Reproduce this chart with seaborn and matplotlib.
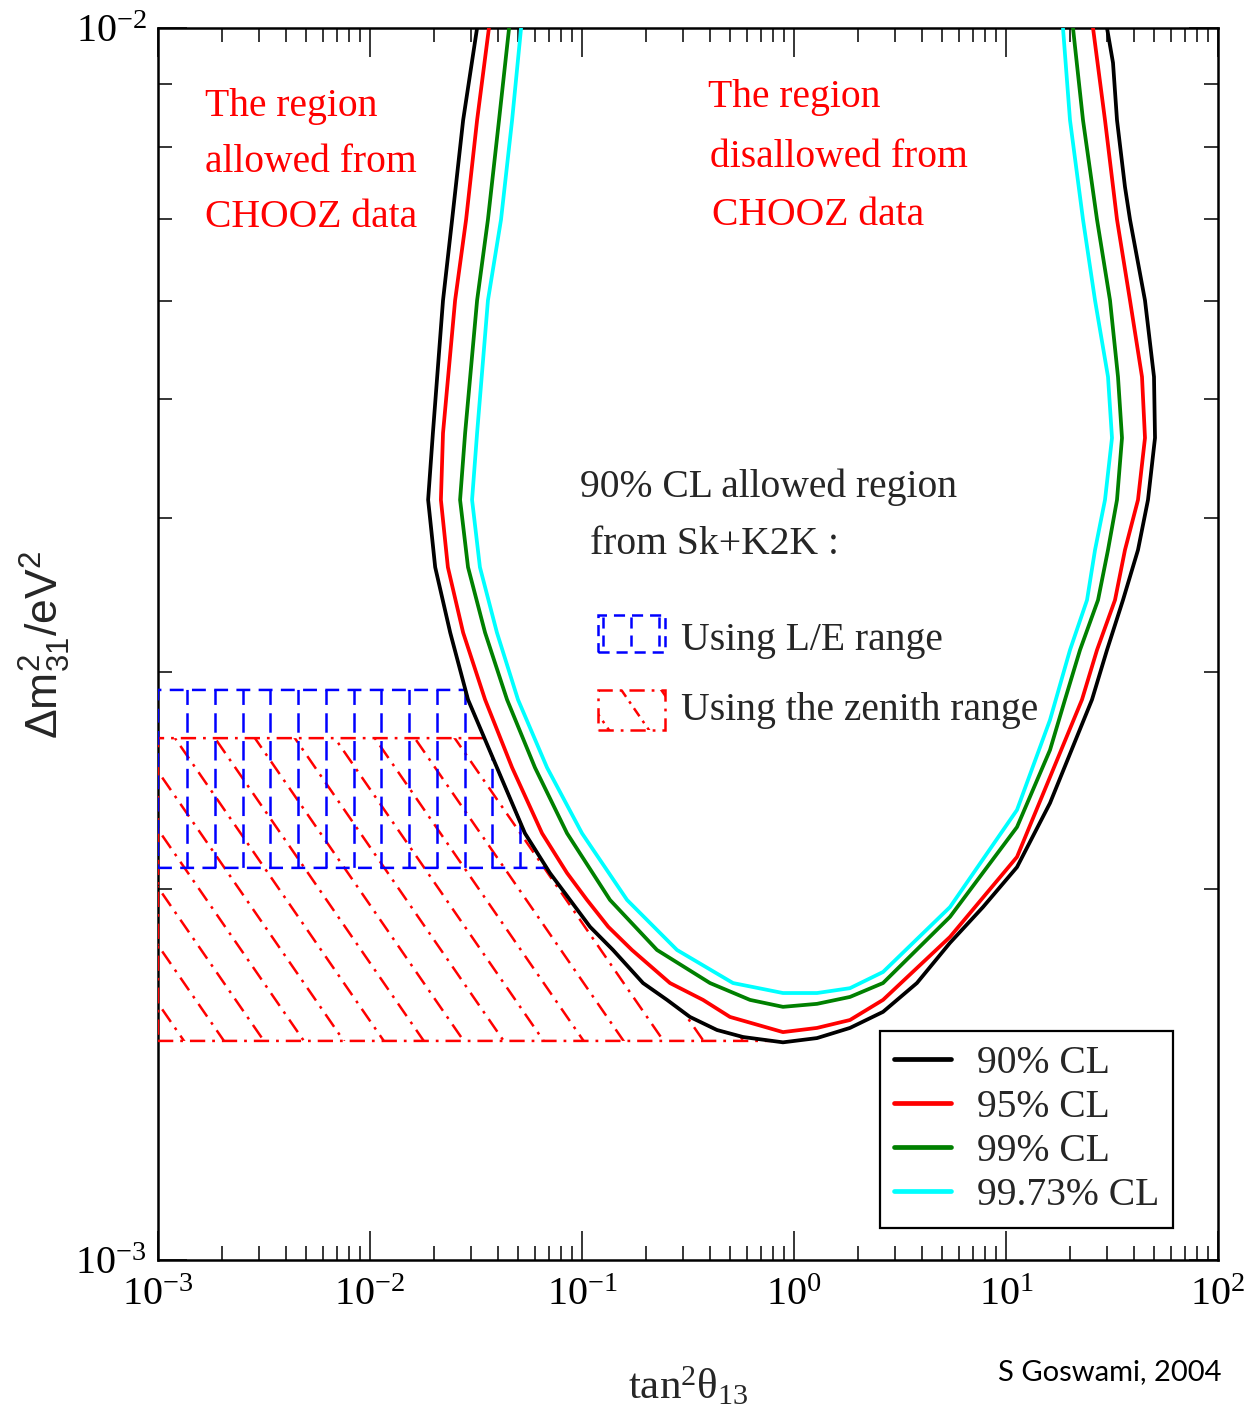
import numpy as np
import pandas as pd
import matplotlib
matplotlib.use("Agg")
import matplotlib.pyplot as plt
import seaborn as sns
from matplotlib.patches import Polygon
from matplotlib.lines import Line2D
from matplotlib.ticker import LogLocator, LogFormatterMathtext, NullFormatter

# ---------------- data ----------------
cl_labels = ["90% CL", "95% CL", "99% CL", "99.73% CL"]
cl_colors = ["#000000", "#ff0000", "#008000", "#00ffff"]

x_90 = [0.0320, 0.0275, 0.0244, 0.0221, 0.0198, 0.0188, 0.0203, 0.0239, 0.0290, 0.0397,
        0.0538, 0.0706, 0.0878, 0.1091, 0.140, 0.194, 0.2518, 0.323, 0.4333, 0.575,
        0.887, 1.284, 1.837, 2.630, 3.80, 5.443, 7.79, 11.27, 16.13, 25.45,
        29.95, 35.63, 41.94, 46.75, 50.45, 49.90, 45.25, 38.45, 36.41, 33.39,
        31.97, 29.95]
y_90 = [0.01000, 0.008417, 0.00699, 0.00601, 0.00469, 0.00414, 0.00365, 0.00323, 0.00285, 0.00251,
        0.00222, 0.002061, 0.00196, 0.001864, 0.001785, 0.001678, 0.001626, 0.001575, 0.001537, 0.001517,
        0.001502, 0.001514, 0.001543, 0.001590, 0.001678, 0.001809, 0.001934, 0.002084, 0.002349, 0.00285,
        0.003127, 0.003433, 0.003770, 0.00414, 0.004648, 0.00521, 0.00601, 0.00699, 0.00743, 0.008417,
        0.00937, 0.01000]

x_95 = [0.0364, 0.0320, 0.0284, 0.0252, 0.0221, 0.0216, 0.0233, 0.0275, 0.0349, 0.0468,
        0.0648, 0.0850, 0.1056, 0.1330, 0.172, 0.260, 0.3722, 0.499, 0.887, 1.284,
        1.837, 2.630, 5.443, 11.27, 16.13, 22.83, 26.87, 32.67, 36.41, 41.94,
        45.25, 43.80, 38.45, 33.39, 29.31, 25.73]
y_95 = [0.01000, 0.008417, 0.00699, 0.00601, 0.00469, 0.00414, 0.00365, 0.00323, 0.00285, 0.00251,
        0.00222, 0.002061, 0.00196, 0.001864, 0.001785, 0.001678, 0.001626, 0.001575, 0.001531, 0.001543,
        0.001566, 0.001626, 0.001829, 0.002124, 0.002466, 0.00285, 0.003127, 0.003433, 0.003770, 0.00414,
        0.004648, 0.00521, 0.00601, 0.00699, 0.008417, 0.01000]

x_99 = [0.0453, 0.0406, 0.0360, 0.0320, 0.0281, 0.0266, 0.0290, 0.0349, 0.0443, 0.0600,
        0.0850, 0.1355, 0.2258, 0.4016, 0.620, 0.887, 1.284, 1.837, 2.630, 5.443,
        11.27, 16.13, 18.98, 22.34, 27.17, 30.28, 33.39, 35.25, 33.75, 30.95,
        26.87, 23.08, 20.70]
y_99 = [0.01000, 0.008417, 0.00699, 0.00601, 0.00469, 0.00414, 0.00365, 0.00323, 0.00285, 0.00251,
        0.00222, 0.00196, 0.001785, 0.001678, 0.001626, 0.001605, 0.001614, 0.001635, 0.001678, 0.001899,
        0.002246, 0.002594, 0.00285, 0.003127, 0.003433, 0.003770, 0.00414, 0.004648, 0.00521, 0.00601,
        0.00699, 0.008417, 0.01000]

x_9973 = [0.0516, 0.0468, 0.0415, 0.0360, 0.0320, 0.0303, 0.0330, 0.0397, 0.0499, 0.0684,
          0.1000, 0.1631, 0.2806, 0.5156, 0.887, 1.284, 1.837, 2.630, 5.443, 11.27,
          16.13, 20.04, 24.11, 26.30, 29.31, 31.62, 30.28, 26.30, 23.08, 20.04,
          18.57]
y_9973 = [0.01000, 0.008417, 0.00699, 0.00601, 0.00469, 0.00414, 0.00365, 0.00323, 0.00285, 0.00251,
          0.00222, 0.00196, 0.001785, 0.001678, 0.001647, 0.001647, 0.001662, 0.001713, 0.001934, 0.002319,
          0.002744, 0.003127, 0.003433, 0.003770, 0.00414, 0.004648, 0.00521, 0.00601, 0.00699, 0.008417,
          0.01000]

le_range = [0.002081, 0.002902]        # "Using L/E range"
zenith_range = [0.001506, 0.002652]    # "Using the zenith range"

x_lim = [1e-3, 1e2]
y_lim = [1e-3, 1e-2]

# ---------------- style ----------------
sns.set_theme(style="ticks")
plt.rcParams["font.family"] = ["Liberation Serif", "DejaVu Serif"]
plt.rcParams["mathtext.fontset"] = "custom"
plt.rcParams["mathtext.rm"] = "Liberation Serif"
plt.rcParams["mathtext.it"] = "Liberation Serif:italic"
plt.rcParams["mathtext.sf"] = "Liberation Sans"
plt.rcParams["axes.unicode_minus"] = False
plt.rcParams["lines.scale_dashes"] = False

fig = plt.figure(figsize=(12.5, 14.23), dpi=100)
ax = fig.add_axes([0.1264, 0.11455, 0.848, 0.8658])
ax.set_xscale("log")
ax.set_yscale("log")

# ---------------- curves ----------------
frames = []
for lab, xs, ys in zip(cl_labels, [x_90, x_95, x_99, x_9973], [y_90, y_95, y_99, y_9973]):
    frames.append(pd.DataFrame({"x": xs, "y": ys, "CL": lab}))
df = pd.concat(frames, ignore_index=True)

sns.lineplot(data=df, x="x", y="y", hue="CL", hue_order=cl_labels,
             palette=cl_colors, sort=False, estimator=None, lw=2.7,
             legend=False, ax=ax, zorder=5)
for ln in ax.get_lines():
    ln.set_solid_joinstyle("round")

ax.set_xlim(*x_lim)
ax.set_ylim(*y_lim)

# ---------------- hatched regions ----------------
i_min = int(np.argmin(y_90))
bx = np.array(x_90[: i_min + 1])
by = np.array(y_90[: i_min + 1])


def boundary_x(y):
    return 10 ** np.interp(np.log10(y), np.log10(by[::-1]), np.log10(bx[::-1]))


def region_verts(ylo, yhi):
    yy = np.logspace(np.log10(ylo), np.log10(yhi), 80)
    xx = boundary_x(yy)
    return [(x_lim[0], ylo)] + list(zip(xx, yy)) + [(x_lim[0], yhi)]


blue_ls = (0, (14, 6))
red_ls = (0, (11, 5, 2, 5))
lw_h = 1.8


def add_vertical_hatch(clip, color, ls):
    for xk in np.arange(0.02736, 1.0, 0.02618):
        ln = Line2D([xk, xk], [0, 1], transform=ax.transAxes, color=color, lw=lw_h, ls=ls, zorder=3)
        ax.add_line(ln)
        ln.set_clip_path(clip)


def add_diag_hatch(clip, color, ls):
    slope = 1.45 * 1060 / 1232
    for c in np.arange(-1.2, 1.05, 0.0377):
        ln = Line2D([c, c + 1.0 / slope], [1, 0], transform=ax.transAxes, color=color, lw=lw_h, ls=ls, zorder=3)
        ax.add_line(ln)
        ln.set_clip_path(clip)


red_poly = Polygon(region_verts(*zenith_range), closed=True, fill=False, edgecolor="#ff0000",
                   lw=lw_h, ls=red_ls, transform=ax.transData, zorder=3)
ax.add_patch(red_poly)
add_diag_hatch(red_poly, "#ff0000", red_ls)

blue_poly = Polygon(region_verts(*le_range), closed=True, fill=False, edgecolor="#0000ff",
                    lw=lw_h, ls=(0, (10, 6)), transform=ax.transData, zorder=3.5)
ax.add_patch(blue_poly)
add_vertical_hatch(blue_poly, "#0000ff", blue_ls)

# legend samples for the shaded regions
blue_box = Polygon([(0.4151, 0.4935), (0.4783, 0.4935), (0.4783, 0.5235), (0.4151, 0.5235)],
                   closed=True, transform=ax.transAxes, fill=False,
                   edgecolor="#0000ff", lw=lw_h, ls=(0, (8, 5)), zorder=3)
ax.add_patch(blue_box)
add_vertical_hatch(blue_box, "#0000ff", (0, (8, 5)))
red_box = Polygon([(0.4151, 0.4302), (0.4783, 0.4302), (0.4783, 0.4627), (0.4151, 0.4627)],
                  closed=True, transform=ax.transAxes, fill=False,
                  edgecolor="#ff0000", lw=lw_h, ls=red_ls, zorder=3)
ax.add_patch(red_box)
add_diag_hatch(red_box, "#ff0000", (0, (7, 4, 2, 4)))

# ---------------- texts ----------------
fs = 28.5
for t, yy in zip(["The region", "allowed from", "CHOOZ data"], [0.9359, 0.8912, 0.8458]):
    ax.text(0.0443, yy, t, transform=ax.transAxes, color="#ff0000", fontsize=fs, va="center", ha="left")
for t, xx, yy in zip(["The region", "disallowed from", "CHOOZ data"],
                     [0.5189, 0.5208, 0.5227], [0.9432, 0.8945, 0.8474]):
    ax.text(xx, yy, t, transform=ax.transAxes, color="#ff0000", fontsize=fs, va="center", ha="left")
ax.text(0.3981, 0.6274, "90% CL allowed region", transform=ax.transAxes, fontsize=fs, va="center")
ax.text(0.4075, 0.5804, "from Sk+K2K :", transform=ax.transAxes, fontsize=fs, va="center")
ax.text(0.4934, 0.5032, "Using L/E range", transform=ax.transAxes, fontsize=fs, va="center")
ax.text(0.4934, 0.4464, "Using the zenith range", transform=ax.transAxes, fontsize=fs, va="center")

# ---------------- legend ----------------
handles = [Line2D([], [], color=c, lw=3.4) for c in cl_colors]
leg = ax.legend(handles, cl_labels, loc="lower right", bbox_to_anchor=(0.9575, 0.026),
                borderaxespad=0, fancybox=False, framealpha=1, edgecolor="black",
                fontsize=fs, handlelength=1.45, handletextpad=0.65, labelspacing=0.18,
                borderpad=0.35)
leg.get_frame().set_linewidth(1.6)
leg.set_zorder(10)

# ---------------- axes styling ----------------
ax.xaxis.set_major_locator(LogLocator(base=10, numticks=20))
ax.xaxis.set_minor_locator(LogLocator(base=10, subs=np.arange(2, 10), numticks=100))
ax.yaxis.set_major_locator(LogLocator(base=10, numticks=20))
ax.yaxis.set_minor_locator(LogLocator(base=10, subs=np.arange(2, 10), numticks=100))
ax.xaxis.set_major_formatter(LogFormatterMathtext())
ax.yaxis.set_major_formatter(LogFormatterMathtext())
ax.xaxis.set_minor_formatter(NullFormatter())
ax.yaxis.set_minor_formatter(NullFormatter())
ax.tick_params(which="both", direction="in", top=True, right=True, colors="black", width=1.1)
ax.tick_params(which="major", length=21, labelsize=29)
ax.tick_params(which="minor", length=10)
ax.tick_params(axis="x", which="major", pad=12)
ax.tick_params(axis="y", which="major", pad=8)
for sp in ax.spines.values():
    sp.set_linewidth(1.8)
    sp.set_color("black")
ax.grid(False)

ax.set_xlabel(r"$\mathrm{tan}^{2}\mathrm{\theta}_{13}$", fontsize=31)
ax.xaxis.set_label_coords(0.5, -0.086)
ax.set_ylabel(r"$\mathsf{\Delta m^{2}_{31}/eV^{2}}$", fontsize=32, va="center")
ax.yaxis.set_label_coords(-0.1066, 0.4992)

fig.text(0.9776, 0.0358, "S Goswami, 2004", ha="right", va="center", fontsize=21,
         family=["Lato", "DejaVu Sans"], color="black")

fig.savefig("out.png", dpi=100)
